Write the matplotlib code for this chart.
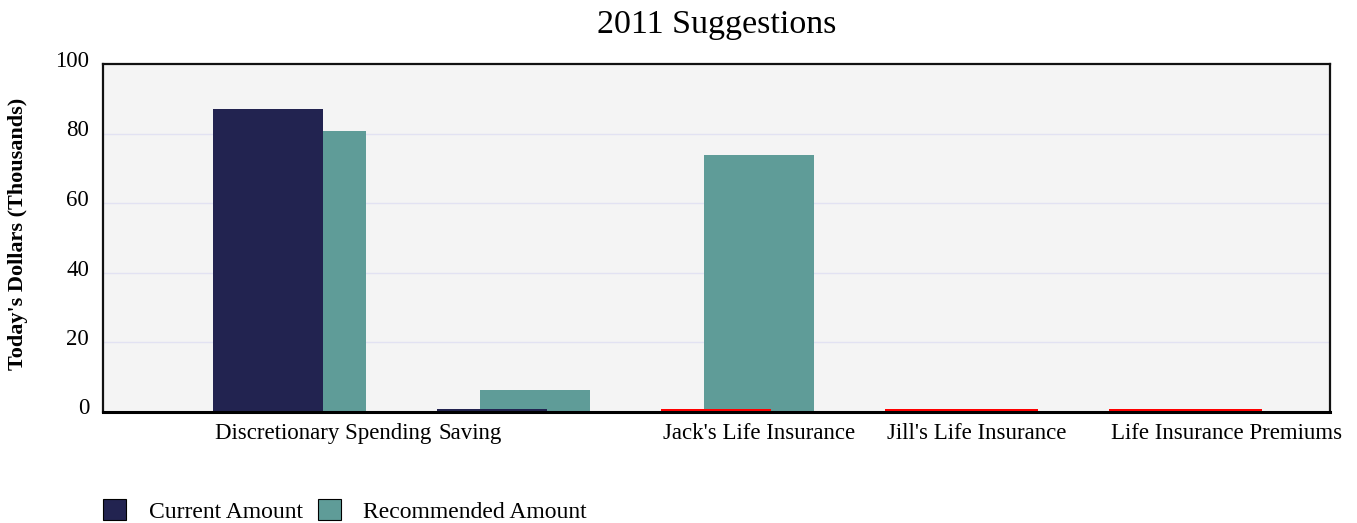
import matplotlib
matplotlib.use("Agg")
import matplotlib.pyplot as plt
from matplotlib.patches import Patch
from matplotlib.transforms import ScaledTranslation

categories = ["Discretionary Spending", "Saving", "Jack's Life Insurance",
              "Jill's Life Insurance", "Life Insurance Premiums"]
current_amount = [87.0, 0.8, 0.0, 0.0, 0.0]
recommended_amount = [80.6, 6.2, 73.7, 0.0, 0.0]
y_ticks = [0, 20, 40, 60, 80, 100]
series_names = ["Current Amount", "Recommended Amount"]

NAVY = "#222350"
TEAL = "#5f9c98"
ZERO_RED = "#ff0000"
BG = "#f4f4f4"
GRID = "#e2e2f2"
W = 0.491          # bar width (fraction of category slot)
OFF = 0.192        # offset of recommended bar
ZERO_H = 0.75      # height of zero marker

plt.rcParams['font.family'] = ['Liberation Serif', 'DejaVu Serif']

fig = plt.figure(figsize=(13.57, 5.23), dpi=100)
ax = fig.add_axes([103/1357, 1 - 411.5/523, (1330-103)/1357, (411.5-64)/523])
ax.set_facecolor(BG)

x = list(range(len(categories)))

def heights(vals):
    return [v if v != 0 else ZERO_H for v in vals]

def colors(vals, c):
    return [c if v != 0 else ZERO_RED for v in vals]

ax.bar([i + OFF for i in x], heights(recommended_amount), width=W, align='edge',
       color=colors(recommended_amount, TEAL), zorder=2, linewidth=0)
ax.bar(x, heights(current_amount), width=W, align='edge',
       color=colors(current_amount, NAVY), zorder=3, linewidth=0)

ax.set_xlim(-W, (1330-213)/224)
ax.set_ylim(0, 100)
ax.set_yticks(y_ticks)
ax.set_yticklabels([str(t) for t in y_ticks], fontsize=16.5)
ax.set_xticks(x)
ax.set_xticklabels(categories, fontsize=16.5, ha='left')
ax.tick_params(axis='both', length=0)
ax.tick_params(axis='x', pad=8)
ax.tick_params(axis='y', pad=10)
off = ScaledTranslation(0, 5/100, fig.dpi_scale_trans)
for lab in ax.get_yticklabels():
    lab.set_transform(lab.get_transform() + off)
xoff = ScaledTranslation(2/100, 0, fig.dpi_scale_trans)
for lab in ax.get_xticklabels():
    lab.set_transform(lab.get_transform() + xoff)

for t in y_ticks[1:-1]:
    ax.axhline(t, color=GRID, linewidth=1.0, zorder=1)

for s in ['top', 'right', 'left']:
    ax.spines[s].set_linewidth(1.6)
    ax.spines[s].set_color('#111111')
ax.spines['bottom'].set_linewidth(2.2)
ax.spines['bottom'].set_color('black')
ax.spines['bottom'].set_zorder(4)

fig.text(716.5/1357, 1 - 25/523, "2011 Suggestions", ha='center', va='center', fontsize=24.5)
fig.text(18/1357, 1 - 234/523, "Today's Dollars (Thousands)", ha='center', va='center',
         rotation=90, fontsize=16, fontweight='bold')

handles = [Patch(facecolor=NAVY, edgecolor='black', linewidth=0.8),
           Patch(facecolor=TEAL, edgecolor='black', linewidth=0.8)]
fig.legend(handles, series_names, loc='lower left',
           bbox_to_anchor=(103/1357, 0.5/523), ncol=2, frameon=False,
           fontsize=17, handlelength=0.98, handleheight=0.98,
           handletextpad=0.95, columnspacing=0.65, borderpad=0, borderaxespad=0)

fig.savefig("out.png", dpi=100)
